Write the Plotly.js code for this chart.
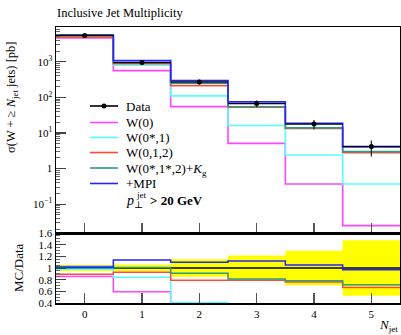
<!DOCTYPE html>
<html>
<head>
<meta charset="utf-8">
<script src="https://cdn.plot.ly/plotly-3.0.1.min.js"></script>
<style>
  html, body { margin: 0; padding: 0; background: #fff; }
  #chart { width: 401px; height: 335px; }
</style>
</head>
<body>
<div id="chart"></div>
<script>
// Inclusive jet multiplicity, W + >= N jets, pT(jet) > 20 GeV
const nJet = [0, 1, 2, 3, 4, 5];

const dataXsec = [5500, 950, 270, 67, 17.8, 4.2];
const dataErr  = [280, 57, 41, 14.5, 5.3, 2.0];

const mcW0        = [4700, 565, 55, 5.1, 0.37, 0.025];
const mcW01       = [5390, 800, 110, 16.3, 2.4, 0.37];
const mcW012      = [4900, 880, 213, 53, 13.5, 2.8];
const mcW012Kg    = [5650, 960, 246, 54.5, 13.9, 3.0];
const mcMPI       = [5560, 1080, 297, 75, 18.7, 4.07];

const mcNames = ['W(0)', 'W(0*,1)', 'W(0,1,2)', 'W(0*,1*,2)+<i>K</i><sub>g</sub>', '+MPI'];
const mcSets  = [mcW0, mcW01, mcW012, mcW012Kg, mcMPI];
const mcColors = ['#ff44ff', '#55ffff', '#ff4a3a', '#2f9a8a', '#2424ff'];

const yTickVals = [0.1, 1, 10, 100, 1000];
const yTickText = ['10<sup>\u22121</sup>', '1', '10<sup>1</sup>', '10<sup>2</sup>', '10<sup>3</sup>'];
const rTickVals = [0.4, 0.6, 0.8, 1, 1.2, 1.4, 1.6];
const rTickText = ['0.4', '0.6', '0.8', '1', '1.2', '1.4', '1.6'];

const FONT = 'Liberation Serif, DejaVu Serif, serif';

// bin edges from the bin centres (unit-width bins)
const edges = nJet.map(c => c - 0.5).concat([nJet[nJet.length - 1] + 0.5]);
const stepY = v => v.concat([v[v.length - 1]]);

const traces = [];

// Monte Carlo histograms, main panel
mcSets.forEach((vals, i) => {
  traces.push({
    x: edges, y: stepY(vals), type: 'scatter', mode: 'lines',
    line: { shape: 'hv', color: mcColors[i], width: 1.6 },
    xaxis: 'x', yaxis: 'y', hoverinfo: 'skip', showlegend: false
  });
});

// data points with bin-width horizontal bars
traces.push({
  x: nJet, y: dataXsec, type: 'scatter', mode: 'markers',
  marker: { color: '#000', size: 5 },
  error_y: { type: 'data', array: dataErr, color: '#222', thickness: 1.2, width: 0 },
  error_x: { type: 'data', array: nJet.map(() => 0.5), color: '#000', thickness: 1.4, width: 0 },
  xaxis: 'x', yaxis: 'y', showlegend: false
});

// ratio panel: data uncertainty band
const relUp = dataXsec.map((d, i) => 1 + dataErr[i] / d);
const relDn = dataXsec.map((d, i) => 1 - dataErr[i] / d);
traces.push({
  x: edges, y: stepY(relDn), type: 'scatter', mode: 'lines',
  line: { shape: 'hv', width: 0, color: 'rgba(0,0,0,0)' },
  xaxis: 'x2', yaxis: 'y2', hoverinfo: 'skip', showlegend: false
});
traces.push({
  x: edges, y: stepY(relUp), type: 'scatter', mode: 'lines', fill: 'tonexty',
  fillcolor: '#ffff00',
  line: { shape: 'hv', width: 0, color: 'rgba(0,0,0,0)' },
  xaxis: 'x2', yaxis: 'y2', hoverinfo: 'skip', showlegend: false
});
// data reference line at 1
traces.push({
  x: edges, y: stepY(dataXsec.map(() => 1)), type: 'scatter', mode: 'lines',
  line: { shape: 'hv', color: '#000', width: 1.3 },
  xaxis: 'x2', yaxis: 'y2', hoverinfo: 'skip', showlegend: false
});
// MC / data ratios
mcSets.forEach((vals, i) => {
  const r = vals.map((v, j) => v / dataXsec[j]);
  traces.push({
    x: edges, y: stepY(r), type: 'scatter', mode: 'lines',
    line: { shape: 'hv', color: mcColors[i], width: 1.5 },
    xaxis: 'x2', yaxis: 'y2', hoverinfo: 'skip', showlegend: false
  });
});

// hand-placed legend (line samples + labels)
const px2x = px => (px - 56) / 344;
const py2y = py => (303 - py) / 276;
const legendRows = [106, 122.5, 137.5, 152.5, 168, 183.5];
const legendLabels = ['Data'].concat(mcNames);
const legendColors = ['#000'].concat(mcColors);

const shapes = [];
const annotations = [];
legendRows.forEach((py, i) => {
  shapes.push({
    type: 'line', xref: 'paper', yref: 'paper',
    x0: px2x(90), x1: px2x(118), y0: py2y(py), y1: py2y(py),
    line: { color: legendColors[i], width: 1.6 }
  });
  annotations.push({
    xref: 'paper', yref: 'paper', x: px2x(124), y: py2y(py + (i === 4 ? 1.5 : 0)),
    xanchor: 'left', yanchor: 'middle', text: legendLabels[i], showarrow: false,
    font: { family: FONT, size: 13, color: '#000' }
  });
});
shapes.push({
  type: 'circle', xref: 'paper', yref: 'paper',
  x0: px2x(101.5), x1: px2x(106.5), y0: py2y(108.5), y1: py2y(103.5),
  fillcolor: '#000', line: { color: '#000', width: 0 }
});

// cut label: p, perpendicular subscript, "jet" superscript, then the threshold
annotations.push({
  xref: 'paper', yref: 'paper', x: px2x(124), y: py2y(202),
  xanchor: 'left', yanchor: 'middle', showarrow: false,
  text: '<i>p</i><sub>\u22a5</sub>',
  font: { family: FONT, size: 14, color: '#000' }
});
annotations.push({
  xref: 'paper', yref: 'paper', x: px2x(134), y: py2y(195),
  xanchor: 'left', yanchor: 'middle', showarrow: false, text: 'jet',
  font: { family: FONT, size: 9, color: '#000' }
});
annotations.push({
  xref: 'paper', yref: 'paper', x: px2x(148), y: py2y(200),
  xanchor: 'left', yanchor: 'middle', showarrow: false,
  text: '<b>&gt; 20 GeV</b>',
  font: { family: FONT, size: 13, color: '#000' }
});

// axis titles
annotations.push({
  xref: 'paper', yref: 'paper', x: px2x(12), y: py2y(98),
  xanchor: 'center', yanchor: 'middle', showarrow: false, textangle: -90,
  text: '\u03c3(W + \u2265 <i>N</i><sub>jet</sub> jets) [pb]',
  font: { family: FONT, size: 12.5, color: '#000' }
});
annotations.push({
  xref: 'paper', yref: 'paper', x: px2x(18), y: py2y(268),
  xanchor: 'center', yanchor: 'middle', showarrow: false, textangle: -90,
  text: 'MC/Data',
  font: { family: FONT, size: 13, color: '#000' }
});
annotations.push({
  xref: 'paper', yref: 'paper', x: px2x(400), y: py2y(325),
  xanchor: 'right', yanchor: 'middle', showarrow: false,
  text: '<i>N</i><sub>jet</sub>',
  font: { family: FONT, size: 13, color: '#000' }
});

// minor tick positions for the log axis (2..9 in each decade)
const logMinor = [];
for (let e = -2; e <= 3; e++) for (let m = 2; m <= 9; m++) logMinor.push(m * Math.pow(10, e));

const layout = {
  width: 401, height: 335,
  margin: { l: 56, r: 1, t: 27, b: 32, pad: 0 },
  paper_bgcolor: '#fff', plot_bgcolor: '#fff',
  showlegend: false,
  font: { family: FONT, size: 11, color: '#000' },
  title: {
    text: 'Inclusive Jet Multiplicity',
    x: 57 / 401, xanchor: 'left', xref: 'container',
    y: 1 - 13 / 335, yanchor: 'middle', yref: 'container',
    font: { family: FONT, size: 12.5, color: '#000' }
  },
  xaxis: {
    domain: [0, 1], anchor: 'y', range: [-0.5, 5.5],
    showgrid: false, zeroline: false, showticklabels: false,
    showline: true, mirror: true, linecolor: '#000', linewidth: 1.5,
    tickmode: 'array', tickvals: nJet, ticks: 'inside', ticklen: 10, tickcolor: '#555', tickwidth: 1.3
  },
  yaxis: {
    domain: [70 / 276, 1], anchor: 'x', type: 'log',
    range: [Math.log10(0.0155), Math.log10(9500)],
    showgrid: false, zeroline: false,
    showline: true, mirror: true, linecolor: '#000', linewidth: 1.5,
    tickmode: 'array', tickvals: yTickVals, ticktext: yTickText,
    ticks: 'inside', ticklen: 10, tickcolor: '#444', tickwidth: 1.3,
    minor: { tickmode: 'array', tickvals: logMinor, ticks: 'inside', ticklen: 4, tickcolor: '#666', tickwidth: 1, showgrid: false },
    tickfont: { family: FONT, size: 11, color: '#000' }
  },
  xaxis2: {
    domain: [0, 1], anchor: 'y2', range: [-0.5, 5.5],
    showgrid: false, zeroline: false,
    showline: true, mirror: true, linecolor: '#000', linewidth: 1.5,
    tickmode: 'array', tickvals: nJet, ticktext: nJet.map(String),
    ticks: 'inside', ticklen: 10, tickcolor: '#555', tickwidth: 1.3,
    tickfont: { family: FONT, size: 11, color: '#000' }
  },
  yaxis2: {
    domain: [0, 70 / 276], anchor: 'x2', range: [0.4, 1.6],
    showgrid: false, zeroline: false,
    showline: true, mirror: true, linecolor: '#000', linewidth: 1.5,
    tickmode: 'array', tickvals: rTickVals, ticktext: rTickText,
    ticks: 'inside', ticklen: 10, tickcolor: '#444', tickwidth: 1.3,
    minor: { dtick: 0.05, ticks: 'inside', ticklen: 4, tickcolor: '#666', tickwidth: 1, showgrid: false },
    tickfont: { family: FONT, size: 11, color: '#000' }
  },
  shapes: shapes,
  annotations: annotations
};

Plotly.newPlot('chart', traces, layout, { staticPlot: true, displayModeBar: false });
</script>
</body>
</html>
